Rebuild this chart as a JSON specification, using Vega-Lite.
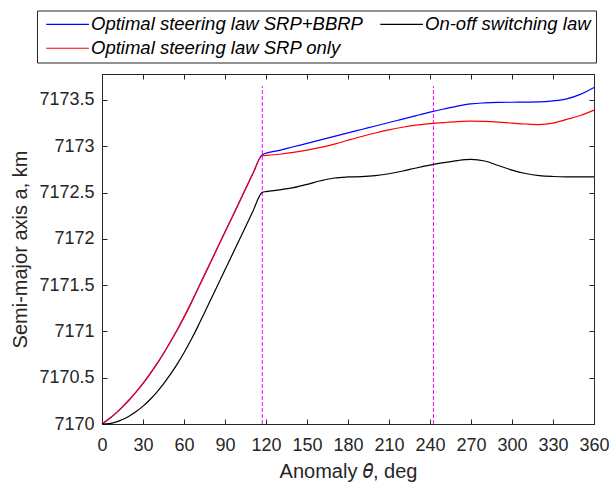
{
  "$schema": "https://vega.github.io/schema/vega-lite/v6.json",
  "autosize": {"type": "none"},
  "width": 492,
  "height": 350,
  "padding": {"left": 102, "top": 74, "right": 15, "bottom": 61},
  "background": "white",
  "view": {"stroke": "#262626", "strokeWidth": 1},
  "config": {
    "font": "Liberation Sans",
    "axis": {"domainColor": "#262626", "tickColor": "#262626", "labelColor": "#262626", "titleColor": "#262626", "labelFont": "Liberation Sans", "titleFont": "Liberation Sans", "labelFontSize": 18, "titleFontSize": 20, "titleFontWeight": "normal", "grid": false, "tickSize": -5, "domainWidth": 1}
  },
  "datasets": {
    "curves": [
      {"series": "Optimal steering law SRP+BBRP", "theta": 0, "a": 7170.0},
      {"series": "Optimal steering law SRP+BBRP", "theta": 5, "a": 7170.054},
      {"series": "Optimal steering law SRP+BBRP", "theta": 10, "a": 7170.115},
      {"series": "Optimal steering law SRP+BBRP", "theta": 15, "a": 7170.185},
      {"series": "Optimal steering law SRP+BBRP", "theta": 20, "a": 7170.262},
      {"series": "Optimal steering law SRP+BBRP", "theta": 25, "a": 7170.346},
      {"series": "Optimal steering law SRP+BBRP", "theta": 30, "a": 7170.438},
      {"series": "Optimal steering law SRP+BBRP", "theta": 35, "a": 7170.538},
      {"series": "Optimal steering law SRP+BBRP", "theta": 40, "a": 7170.646},
      {"series": "Optimal steering law SRP+BBRP", "theta": 45, "a": 7170.762},
      {"series": "Optimal steering law SRP+BBRP", "theta": 50, "a": 7170.885},
      {"series": "Optimal steering law SRP+BBRP", "theta": 55, "a": 7171.015},
      {"series": "Optimal steering law SRP+BBRP", "theta": 60, "a": 7171.154},
      {"series": "Optimal steering law SRP+BBRP", "theta": 65, "a": 7171.3},
      {"series": "Optimal steering law SRP+BBRP", "theta": 70, "a": 7171.455},
      {"series": "Optimal steering law SRP+BBRP", "theta": 80, "a": 7171.764},
      {"series": "Optimal steering law SRP+BBRP", "theta": 90, "a": 7172.073},
      {"series": "Optimal steering law SRP+BBRP", "theta": 100, "a": 7172.382},
      {"series": "Optimal steering law SRP+BBRP", "theta": 110, "a": 7172.691},
      {"series": "Optimal steering law SRP+BBRP", "theta": 117.3, "a": 7172.908},
      {"series": "Optimal steering law SRP+BBRP", "theta": 130, "a": 7172.956},
      {"series": "Optimal steering law SRP+BBRP", "theta": 140, "a": 7172.994},
      {"series": "Optimal steering law SRP+BBRP", "theta": 150, "a": 7173.031},
      {"series": "Optimal steering law SRP+BBRP", "theta": 160, "a": 7173.069},
      {"series": "Optimal steering law SRP+BBRP", "theta": 170, "a": 7173.106},
      {"series": "Optimal steering law SRP+BBRP", "theta": 180, "a": 7173.144},
      {"series": "Optimal steering law SRP+BBRP", "theta": 190, "a": 7173.181},
      {"series": "Optimal steering law SRP+BBRP", "theta": 200, "a": 7173.218},
      {"series": "Optimal steering law SRP+BBRP", "theta": 210, "a": 7173.256},
      {"series": "Optimal steering law SRP+BBRP", "theta": 220, "a": 7173.293},
      {"series": "Optimal steering law SRP+BBRP", "theta": 230, "a": 7173.331},
      {"series": "Optimal steering law SRP+BBRP", "theta": 240, "a": 7173.368},
      {"series": "Optimal steering law SRP+BBRP", "theta": 250, "a": 7173.402},
      {"series": "Optimal steering law SRP+BBRP", "theta": 260, "a": 7173.434},
      {"series": "Optimal steering law SRP+BBRP", "theta": 270, "a": 7173.458},
      {"series": "Optimal steering law SRP+BBRP", "theta": 280, "a": 7173.468},
      {"series": "Optimal steering law SRP+BBRP", "theta": 290, "a": 7173.473},
      {"series": "Optimal steering law SRP+BBRP", "theta": 300, "a": 7173.475},
      {"series": "Optimal steering law SRP+BBRP", "theta": 310, "a": 7173.476},
      {"series": "Optimal steering law SRP+BBRP", "theta": 320, "a": 7173.478},
      {"series": "Optimal steering law SRP+BBRP", "theta": 330, "a": 7173.49},
      {"series": "Optimal steering law SRP+BBRP", "theta": 340, "a": 7173.512},
      {"series": "Optimal steering law SRP+BBRP", "theta": 350, "a": 7173.56},
      {"series": "Optimal steering law SRP+BBRP", "theta": 360, "a": 7173.635},

      {"series": "Optimal steering law SRP only", "theta": 0, "a": 7170.0},
      {"series": "Optimal steering law SRP only", "theta": 5, "a": 7170.054},
      {"series": "Optimal steering law SRP only", "theta": 10, "a": 7170.115},
      {"series": "Optimal steering law SRP only", "theta": 15, "a": 7170.185},
      {"series": "Optimal steering law SRP only", "theta": 20, "a": 7170.262},
      {"series": "Optimal steering law SRP only", "theta": 25, "a": 7170.346},
      {"series": "Optimal steering law SRP only", "theta": 30, "a": 7170.438},
      {"series": "Optimal steering law SRP only", "theta": 35, "a": 7170.538},
      {"series": "Optimal steering law SRP only", "theta": 40, "a": 7170.646},
      {"series": "Optimal steering law SRP only", "theta": 45, "a": 7170.762},
      {"series": "Optimal steering law SRP only", "theta": 50, "a": 7170.885},
      {"series": "Optimal steering law SRP only", "theta": 55, "a": 7171.015},
      {"series": "Optimal steering law SRP only", "theta": 60, "a": 7171.154},
      {"series": "Optimal steering law SRP only", "theta": 65, "a": 7171.3},
      {"series": "Optimal steering law SRP only", "theta": 70, "a": 7171.455},
      {"series": "Optimal steering law SRP only", "theta": 80, "a": 7171.764},
      {"series": "Optimal steering law SRP only", "theta": 90, "a": 7172.073},
      {"series": "Optimal steering law SRP only", "theta": 100, "a": 7172.382},
      {"series": "Optimal steering law SRP only", "theta": 110, "a": 7172.691},
      {"series": "Optimal steering law SRP only", "theta": 117.3, "a": 7172.897},
      {"series": "Optimal steering law SRP only", "theta": 120, "a": 7172.9},
      {"series": "Optimal steering law SRP only", "theta": 130, "a": 7172.913},
      {"series": "Optimal steering law SRP only", "theta": 140, "a": 7172.933},
      {"series": "Optimal steering law SRP only", "theta": 150, "a": 7172.958},
      {"series": "Optimal steering law SRP only", "theta": 160, "a": 7172.987},
      {"series": "Optimal steering law SRP only", "theta": 170, "a": 7173.022},
      {"series": "Optimal steering law SRP only", "theta": 180, "a": 7173.064},
      {"series": "Optimal steering law SRP only", "theta": 190, "a": 7173.105},
      {"series": "Optimal steering law SRP only", "theta": 200, "a": 7173.143},
      {"series": "Optimal steering law SRP only", "theta": 210, "a": 7173.177},
      {"series": "Optimal steering law SRP only", "theta": 220, "a": 7173.205},
      {"series": "Optimal steering law SRP only", "theta": 230, "a": 7173.228},
      {"series": "Optimal steering law SRP only", "theta": 240, "a": 7173.243},
      {"series": "Optimal steering law SRP only", "theta": 250, "a": 7173.255},
      {"series": "Optimal steering law SRP only", "theta": 260, "a": 7173.265},
      {"series": "Optimal steering law SRP only", "theta": 270, "a": 7173.27},
      {"series": "Optimal steering law SRP only", "theta": 280, "a": 7173.268},
      {"series": "Optimal steering law SRP only", "theta": 290, "a": 7173.261},
      {"series": "Optimal steering law SRP only", "theta": 300, "a": 7173.25},
      {"series": "Optimal steering law SRP only", "theta": 310, "a": 7173.24},
      {"series": "Optimal steering law SRP only", "theta": 320, "a": 7173.234},
      {"series": "Optimal steering law SRP only", "theta": 330, "a": 7173.25},
      {"series": "Optimal steering law SRP only", "theta": 340, "a": 7173.29},
      {"series": "Optimal steering law SRP only", "theta": 350, "a": 7173.332},
      {"series": "Optimal steering law SRP only", "theta": 360, "a": 7173.39},

      {"series": "On-off switching law", "theta": 0, "a": 7170.0},
      {"series": "On-off switching law", "theta": 5, "a": 7170.005},
      {"series": "On-off switching law", "theta": 10, "a": 7170.021},
      {"series": "On-off switching law", "theta": 15, "a": 7170.048},
      {"series": "On-off switching law", "theta": 20, "a": 7170.086},
      {"series": "On-off switching law", "theta": 25, "a": 7170.134},
      {"series": "On-off switching law", "theta": 30, "a": 7170.193},
      {"series": "On-off switching law", "theta": 35, "a": 7170.262},
      {"series": "On-off switching law", "theta": 40, "a": 7170.342},
      {"series": "On-off switching law", "theta": 45, "a": 7170.433},
      {"series": "On-off switching law", "theta": 50, "a": 7170.535},
      {"series": "On-off switching law", "theta": 55, "a": 7170.647},
      {"series": "On-off switching law", "theta": 60, "a": 7170.77},
      {"series": "On-off switching law", "theta": 65, "a": 7170.904},
      {"series": "On-off switching law", "theta": 70, "a": 7171.049},
      {"series": "On-off switching law", "theta": 75, "a": 7171.202},
      {"series": "On-off switching law", "theta": 80, "a": 7171.356},
      {"series": "On-off switching law", "theta": 90, "a": 7171.665},
      {"series": "On-off switching law", "theta": 100, "a": 7171.974},
      {"series": "On-off switching law", "theta": 110, "a": 7172.284},
      {"series": "On-off switching law", "theta": 117.3, "a": 7172.502},
      {"series": "On-off switching law", "theta": 120, "a": 7172.51},
      {"series": "On-off switching law", "theta": 130, "a": 7172.528},
      {"series": "On-off switching law", "theta": 140, "a": 7172.552},
      {"series": "On-off switching law", "theta": 150, "a": 7172.588},
      {"series": "On-off switching law", "theta": 160, "a": 7172.627},
      {"series": "On-off switching law", "theta": 170, "a": 7172.657},
      {"series": "On-off switching law", "theta": 180, "a": 7172.668},
      {"series": "On-off switching law", "theta": 190, "a": 7172.672},
      {"series": "On-off switching law", "theta": 200, "a": 7172.683},
      {"series": "On-off switching law", "theta": 210, "a": 7172.703},
      {"series": "On-off switching law", "theta": 220, "a": 7172.732},
      {"series": "On-off switching law", "theta": 230, "a": 7172.765},
      {"series": "On-off switching law", "theta": 240, "a": 7172.795},
      {"series": "On-off switching law", "theta": 250, "a": 7172.822},
      {"series": "On-off switching law", "theta": 260, "a": 7172.845},
      {"series": "On-off switching law", "theta": 270, "a": 7172.857},
      {"series": "On-off switching law", "theta": 280, "a": 7172.84},
      {"series": "On-off switching law", "theta": 290, "a": 7172.792},
      {"series": "On-off switching law", "theta": 300, "a": 7172.742},
      {"series": "On-off switching law", "theta": 310, "a": 7172.705},
      {"series": "On-off switching law", "theta": 320, "a": 7172.682},
      {"series": "On-off switching law", "theta": 330, "a": 7172.673},
      {"series": "On-off switching law", "theta": 340, "a": 7172.67},
      {"series": "On-off switching law", "theta": 350, "a": 7172.67},
      {"series": "On-off switching law", "theta": 360, "a": 7172.67}
    ],
    "vlines": [{"theta": 117.3}, {"theta": 242.5}]
  },
  "resolve": {"axis": {"x": "independent", "y": "independent"}},
  "layer": [
    {
      "data": {"name": "vlines"},
      "mark": {"type": "rule", "color": "#FF00FF", "strokeDash": [4, 2], "strokeWidth": 1},
      "encoding": {
        "x": {"field": "theta", "type": "quantitative",
              "scale": {"domain": [0, 360], "nice": false},
              "axis": {"orient": "bottom", "values": [0,30,60,90,120,150,180,210,240,270,300,330,360], "format": "d", "title": "Anomaly 𝜃, deg", "labelPadding": 17, "titlePadding": 7, "labelFlush": false}},
        "y": {"datum": 7170, "type": "quantitative",
              "scale": {"domain": [7170, 7173.78], "nice": false, "zero": false},
              "axis": {"orient": "left", "values": [7170,7170.5,7171,7171.5,7172,7172.5,7173,7173.5], "format": "~g", "title": "Semi-major axis a, km", "labelPadding": 13, "titlePadding": 8}},
        "y2": {"datum": 7173.65}
      }
    },
    {
      "data": {"name": "curves"},
      "transform": [{"filter": "datum.series === 'Optimal steering law SRP+BBRP'"}],
      "mark": {"type": "line", "strokeWidth": 1.2, "interpolate": "monotone"},
      "encoding": {
        "x": {"field": "theta", "type": "quantitative",
              "axis": {"orient": "top", "values": [0,30,60,90,120,150,180,210,240,270,300,330,360], "labels": false, "title": null}},
        "y": {"field": "a", "type": "quantitative",
              "axis": {"orient": "right", "values": [7170,7170.5,7171,7171.5,7172,7172.5,7173,7173.5], "labels": false, "title": null}},
        "color": {"field": "series", "type": "nominal",
                  "scale": {"domain": ["Optimal steering law SRP+BBRP", "On-off switching law", "Optimal steering law SRP only"], "range": ["#0000FF", "#000000", "#FF0000"]},
                  "legend": {"orient": "none", "legendX": -65, "legendY": -63.5, "columns": 2, "direction": "horizontal", "title": null,
                             "symbolType": "M-0.9,0H7.64", "symbolSize": 100, "symbolStrokeWidth": 1.2,
                             "labelFont": "Liberation Sans", "labelFontStyle": "italic", "labelFontSize": 18.5, "labelColor": "#000000", "labelLimit": 400, "labelOffset": 31,
                             "strokeColor": "#262626", "fillColor": "white", "padding": 4.5, "rowPadding": 5, "columnPadding": 12}}
      }
    },
    {
      "data": {"name": "curves"},
      "transform": [{"filter": "datum.series === 'Optimal steering law SRP only'"}],
      "mark": {"type": "line", "strokeWidth": 1.2, "interpolate": "monotone"},
      "encoding": {
        "x": {"field": "theta", "type": "quantitative", "axis": null},
        "y": {"field": "a", "type": "quantitative", "axis": null},
        "color": {"field": "series", "type": "nominal"}
      }
    },
    {
      "data": {"name": "curves"},
      "transform": [{"filter": "datum.series === 'On-off switching law'"}],
      "mark": {"type": "line", "strokeWidth": 1.2, "interpolate": "monotone"},
      "encoding": {
        "x": {"field": "theta", "type": "quantitative", "axis": null},
        "y": {"field": "a", "type": "quantitative", "axis": null},
        "color": {"field": "series", "type": "nominal"}
      }
    }
  ]
}
